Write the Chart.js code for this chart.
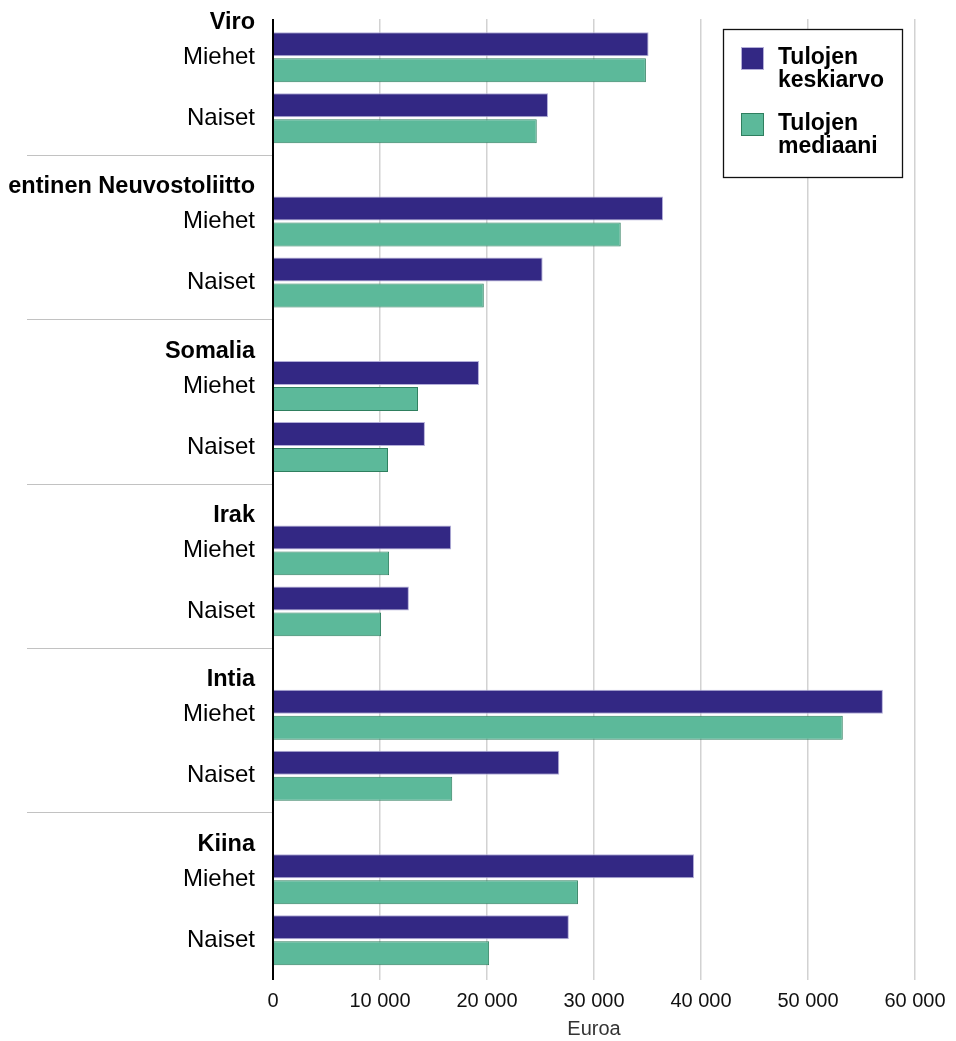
<!DOCTYPE html>
<html lang="fi">
<head>
    <meta charset="UTF-8">
    <title>Tulojen keskiarvo ja mediaani</title>
    <script src="https://cdn.jsdelivr.net/npm/chart.js"></script>
    <style>
        html, body {
            margin: 0;
            padding: 0;
            background: #fff;
        }
        #wrap {
            width: 956px;
            height: 1041px;
        }
    </style>
</head>
<body>
    <div id="wrap"><canvas id="incomeChart"></canvas></div>

    <script>
        // Data (euros)
        const countries = ['Viro', 'entinen Neuvostoliitto', 'Somalia', 'Irak', 'Intia', 'Kiina'];
        const groups = ['Miehet', 'Naiset'];
        const seriesLabels = ['Tulojen keskiarvo', 'Tulojen mediaani'];
        // [Miehet, Naiset] for each country
        const meanIncome = [
            [35100, 25700],
            [36450, 25200],
            [19250, 14200],
            [16650, 12700],
            [57000, 26750],
            [39350, 27650]
        ];
        const medianIncome = [
            [34850, 24650],
            [32500, 19700],
            [13550, 10750],
            [10850, 10100],
            [53250, 16750],
            [28500, 20200]
        ];
        const xTicks = [0, 10000, 20000, 30000, 40000, 50000, 60000];
        const axisTitle = 'Euroa';

        // row positions inside one country block (1 unit = one block)
        const headerOffset = 0.02;
        const rowOffsets = [0.232, 0.603];
        const separatorOffset = 0.826;

        const colors = {
            mean: '#332884',
            meanBorder: '#b3aed8',
            median: '#5cb99a',
            medianBorder: '#2f7f5f'
        };

        const FONT = '"Liberation Sans", Arial, sans-serif';

        function toPoints(values) {
            const pts = [];
            values.forEach((pair, c) => {
                pair.forEach((v, g) => {
                    pts.push({ x: v, y: c + rowOffsets[g] });
                });
            });
            return pts;
        }

        function formatEuro(v) {
            return String(v).replace(/\B(?=(\d{3})+(?!\d))/g, ' ');
        }

        // row labels, country headers, separators, zero line and legend box
        const decorations = {
            id: 'decorations',
            afterDatasetsDraw(chart) {
                const ctx = chart.ctx;
                const y = chart.scales.y;
                const x = chart.scales.x;
                const area = chart.chartArea;

                ctx.save();
                ctx.textAlign = 'right';
                ctx.textBaseline = 'middle';
                ctx.fillStyle = '#000';

                countries.forEach((name, c) => {
                    ctx.font = 'bold 23.5px ' + FONT;
                    ctx.fillText(name, area.left - 18, y.getPixelForValue(c + headerOffset));
                    ctx.font = '24px ' + FONT;
                    groups.forEach((g, i) => {
                        ctx.fillText(g, area.left - 18, y.getPixelForValue(c + rowOffsets[i]));
                    });
                    if (c < countries.length - 1) {
                        const sy = Math.round(y.getPixelForValue(c + separatorOffset)) + 0.5;
                        ctx.strokeStyle = '#c2c2c2';
                        ctx.lineWidth = 1.2;
                        ctx.beginPath();
                        ctx.moveTo(27, sy);
                        ctx.lineTo(area.left, sy);
                        ctx.stroke();
                    }
                });

                // zero axis line
                const x0 = x.getPixelForValue(0);
                ctx.strokeStyle = '#000';
                ctx.lineWidth = 2;
                ctx.beginPath();
                ctx.moveTo(x0, area.top);
                ctx.lineTo(x0, area.bottom);
                ctx.stroke();

                // legend
                const lx = 723.5, ly = 29.5, lw = 179, lh = 148;
                ctx.fillStyle = '#fff';
                ctx.fillRect(lx, ly, lw, lh);
                ctx.strokeStyle = '#111';
                ctx.lineWidth = 1.3;
                ctx.strokeRect(lx, ly, lw, lh);

                const items = [
                    { label: seriesLabels[0], fill: colors.mean, border: colors.meanBorder, top: 47 },
                    { label: seriesLabels[1], fill: colors.median, border: colors.medianBorder, top: 113 }
                ];
                ctx.textAlign = 'left';
                ctx.font = 'bold 23px ' + FONT;
                items.forEach(it => {
                    ctx.fillStyle = it.fill;
                    ctx.fillRect(741, it.top, 23, 23);
                    ctx.strokeStyle = it.border;
                    ctx.lineWidth = 1;
                    ctx.strokeRect(741.5, it.top + 0.5, 22, 22);
                    ctx.fillStyle = '#000';
                    const words = it.label.split(' ');
                    ctx.fillText(words[0], 778, it.top + 11);
                    ctx.fillText(words.slice(1).join(' '), 778, it.top + 34);
                });
                ctx.restore();
            }
        };

        const ctx = document.getElementById('incomeChart').getContext('2d');
        const incomeChart = new Chart(ctx, {
            type: 'bar',
            data: {
                datasets: [
                    {
                        label: seriesLabels[0],
                        data: toPoints(meanIncome),
                        backgroundColor: colors.mean,
                        borderColor: colors.meanBorder,
                        borderWidth: 1,
                        categoryPercentage: 0.852,
                        barPercentage: 0.923
                    },
                    {
                        label: seriesLabels[1],
                        data: toPoints(medianIncome),
                        backgroundColor: colors.median,
                        borderColor: colors.medianBorder,
                        borderWidth: 1,
                        categoryPercentage: 0.852,
                        barPercentage: 0.923
                    }
                ]
            },
            options: {
                indexAxis: 'y',
                responsive: true,
                maintainAspectRatio: false,
                animation: false,
                layout: {
                    padding: { left: 273, right: 41, top: 19, bottom: 0 }
                },
                scales: {
                    x: {
                        type: 'linear',
                        min: 0,
                        max: 60000,
                        afterBuildTicks: scale => {
                            scale.ticks = xTicks.map(v => ({ value: v }));
                        },
                        afterFit: scale => {
                            scale.height = 61;
                        },
                        grid: {
                            drawTicks: false,
                            color: ctx => ctx.tick && ctx.tick.value === 0 ? 'rgba(0,0,0,0)' : '#d2d2d2',
                            lineWidth: 1.5
                        },
                        border: { display: false },
                        ticks: {
                            padding: 9,
                            color: '#111',
                            font: { family: FONT, size: 20 },
                            callback: v => formatEuro(v)
                        },
                        title: {
                            display: true,
                            text: axisTitle,
                            color: '#333',
                            font: { family: FONT, size: 20 },
                            padding: { top: 0, bottom: 0 }
                        }
                    },
                    y: {
                        type: 'linear',
                        display: false,
                        reverse: true,
                        offset: false,
                        grid: { offset: false },
                        min: 0,
                        max: 5.845,
                        ticks: { stepSize: 100 }
                    }
                },
                plugins: {
                    legend: { display: false },
                    tooltip: { enabled: false }
                }
            },
            plugins: [decorations]
        });
    </script>
</body>
</html>
